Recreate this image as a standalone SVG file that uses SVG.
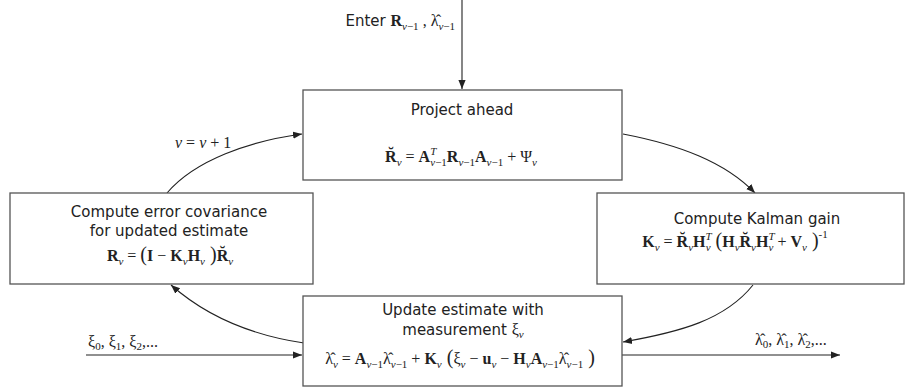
<svg xmlns="http://www.w3.org/2000/svg" width="906" height="389" viewBox="0 0 906 389">
<style>
.box{fill:#fff;stroke:#555;stroke-width:1.3}
.c{fill:none;stroke:#222;stroke-width:1.1}
.t{font-family:"DejaVu Sans","Liberation Sans",sans-serif;font-size:15px;fill:#222}
.m{font-family:"Liberation Serif","Times New Roman",serif;font-size:16px;fill:#222}
.b{font-weight:bold}
.i{font-style:italic}
.s{font-size:11px}
.p{font-size:20px}
</style>
<defs>
<marker id="ah" viewBox="0 0 10 10" refX="10" refY="5" markerWidth="9" markerHeight="9" markerUnits="userSpaceOnUse" orient="auto">
<path d="M0,1 L10,5 L0,9 Z" fill="#222"/>
</marker>
</defs>
<rect width="906" height="389" fill="#fff"/>

<g id="connectors">
<path class="c" d="M462,0 L462,89" marker-end="url(#ah)"/>
<path class="c" d="M167,193 C195,160 250,141 302,134" marker-end="url(#ah)"/>
<path class="c" d="M623,134 C680,145 725,162 755,193" marker-end="url(#ah)"/>
<path class="c" d="M753,285 C725,320 680,332 623,342" marker-end="url(#ah)"/>
<path class="c" d="M304,343 C250,335 205,315 171,285" marker-end="url(#ah)"/>
<path class="c" d="M86,355 L302,355" marker-end="url(#ah)"/>
<path class="c" d="M622,355 L840,355" marker-end="url(#ah)"/>
<text class="m" x="175" y="148"><tspan class="i">v</tspan> = <tspan class="i">v</tspan> + 1</text>
<text class="m" x="88" y="347">ξ<tspan class="s" dy="3">0</tspan><tspan dy="-3">, ξ</tspan><tspan class="s" dy="3">1</tspan><tspan dy="-3">, ξ</tspan><tspan class="s" dy="3">2</tspan><tspan dy="-3">,...</tspan></text>
<text class="m" x="755" y="345">λ̂<tspan class="s" dy="3">0</tspan><tspan dy="-3">, λ̂</tspan><tspan class="s" dy="3">1</tspan><tspan dy="-3">, λ̂</tspan><tspan class="s" dy="3">2</tspan><tspan dy="-3">,...</tspan></text>
</g>

<g id="enter">
<text x="455" y="26" text-anchor="end"><tspan class="t">Enter </tspan><tspan class="m b">R</tspan><tspan class="m s" dy="4"><tspan class="i">v</tspan>−1</tspan><tspan class="m" dy="-4"> , λ̂</tspan><tspan class="m s" dy="4"><tspan class="i">v</tspan>−1</tspan></text>
</g>

<g id="project">
<rect class="box" x="303" y="90" width="319" height="90"/>
<text class="t" x="462" y="115" text-anchor="middle">Project ahead</text>
<text class="m" x="461" y="162" text-anchor="middle"><tspan class="b">R̆</tspan><tspan class="s i" dy="4">v</tspan><tspan dy="-4"> = </tspan><tspan class="b">A</tspan><tspan class="s i" dy="-7">T</tspan><tspan class="s" dx="-6" dy="11"><tspan class="i">v</tspan>−1</tspan><tspan class="b" dy="-4">R</tspan><tspan class="s" dy="4"><tspan class="i">v</tspan>−1</tspan><tspan class="b" dy="-4">A</tspan><tspan class="s" dy="4"><tspan class="i">v</tspan>−1</tspan><tspan dy="-4"> + Ψ</tspan><tspan class="s i" dy="4">v</tspan></text>
</g>

<g id="errcov">
<rect class="box" x="10" y="193" width="303" height="91"/>
<text class="t" x="169" y="217" text-anchor="middle">Compute error covariance</text>
<text class="t" x="169" y="236" text-anchor="middle">for updated estimate</text>
<text class="m" x="170" y="261" text-anchor="middle"><tspan class="b">R</tspan><tspan class="s i" dy="4">v</tspan><tspan dy="-4"> = </tspan><tspan class="p">(</tspan><tspan class="b">I</tspan><tspan> − </tspan><tspan class="b">K</tspan><tspan class="s i" dy="4">v</tspan><tspan class="b" dy="-4">H</tspan><tspan class="s i" dy="4">v</tspan><tspan class="p" dy="-4"> )</tspan><tspan class="b">R̆</tspan><tspan class="s i" dy="4">v</tspan></text>
</g>

<g id="kalman">
<rect class="box" x="597" y="193" width="307" height="91"/>
<text class="t" x="757" y="224" text-anchor="middle">Compute Kalman gain</text>
<text class="m" x="735" y="247" text-anchor="middle"><tspan class="b">K</tspan><tspan class="s i" dy="4">v</tspan><tspan dy="-4"> = </tspan><tspan class="b">R̆</tspan><tspan class="s i" dy="4">v</tspan><tspan class="b" dy="-4">H</tspan><tspan class="s i" dy="-7">T</tspan><tspan class="s i" dx="-6" dy="11">v</tspan><tspan class="p" dy="-4"> (</tspan><tspan class="b">H</tspan><tspan class="s i" dy="4">v</tspan><tspan class="b" dy="-4">R̆</tspan><tspan class="s i" dy="4">v</tspan><tspan class="b" dy="-4">H</tspan><tspan class="s i" dy="-7">T</tspan><tspan class="s i" dx="-6" dy="11">v</tspan><tspan dy="-4"> + </tspan><tspan class="b">V</tspan><tspan class="s i" dy="4">v</tspan><tspan class="p" dy="-4"> )</tspan><tspan class="s" dy="-9">-1</tspan></text>
</g>

<g id="update">
<rect class="box" x="303" y="296" width="319" height="90"/>
<text class="t" x="463" y="315" text-anchor="middle">Update estimate with</text>
<text x="463" y="335" text-anchor="middle"><tspan class="t">measurement </tspan><tspan class="m">ξ</tspan><tspan class="m s i" dy="3">v</tspan></text>
<text class="m" x="460" y="364" text-anchor="middle"><tspan>λ̂</tspan><tspan class="s i" dy="4">v</tspan><tspan dy="-4"> = </tspan><tspan class="b">A</tspan><tspan class="s" dy="4"><tspan class="i">v</tspan>−1</tspan><tspan dy="-4">λ̂</tspan><tspan class="s" dy="4"><tspan class="i">v</tspan>−1</tspan><tspan dy="-4"> + </tspan><tspan class="b">K</tspan><tspan class="s i" dy="4">v</tspan><tspan class="p" dy="-4"> (</tspan><tspan>ξ</tspan><tspan class="s i" dy="4">v</tspan><tspan dy="-4"> − </tspan><tspan class="b">u</tspan><tspan class="s i" dy="4">v</tspan><tspan dy="-4"> − </tspan><tspan class="b">H</tspan><tspan class="s i" dy="4">v</tspan><tspan class="b" dy="-4">A</tspan><tspan class="s" dy="4"><tspan class="i">v</tspan>−1</tspan><tspan dy="-4">λ̂</tspan><tspan class="s" dy="4"><tspan class="i">v</tspan>−1</tspan><tspan class="p" dy="-4"> )</tspan></text>
</g>
</svg>
